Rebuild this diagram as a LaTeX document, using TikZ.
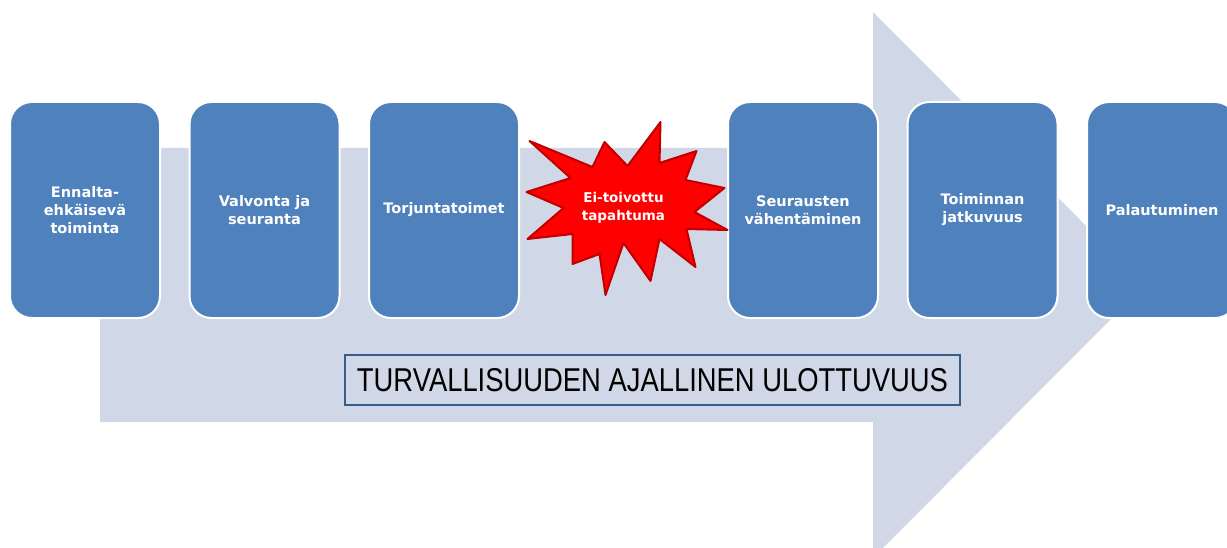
\documentclass[tikz,border=0pt]{standalone}
\usepackage{fontspec}
\setmainfont{DejaVu Sans}
\newfontfamily\captionfont{Liberation Sans}
\usepackage{tikz}
\usetikzlibrary{positioning}
\definecolor{boxblue}{HTML}{4F81BD}
\definecolor{arrowgrey}{HTML}{D0D8E8}
\definecolor{frameblue}{HTML}{385D8A}
\definecolor{starred}{HTML}{FF0000}
\definecolor{stardark}{HTML}{C00000}

\begin{document}
\begin{tikzpicture}[x=1pt,y=-1pt,node distance=179.5pt,
  phase/.style={draw=white,line width=2pt,fill=boxblue,rounded corners=22pt,
    minimum width=150pt,minimum height=216pt,align=center,text=white,
    font=\bfseries\fontsize{14.5}{18}\selectfont,inner sep=2pt},
  burst/.style={draw=stardark,line width=2pt,fill=starred,line join=round}]
\useasboundingbox (0,0) rectangle (1227,548);
\clip (0,0) rectangle (1227,548);

% time arrow in the back
\fill[arrowgrey] (100,148) -- (873,148) -- (873,12) -- (1145,285)
  -- (873,558) -- (873,422) -- (100,422) -- cycle;

\node (ennalta) [phase] at (85,210) {Ennalta-\\ehkäisevä\\toiminta};
\node (valvonta) [phase, right of=ennalta] {Valvonta ja\\seuranta};
\node (torjunta) [phase, right of=valvonta] {Torjuntatoimet};
\node (eventc) [right of=torjunta, inner sep=0pt] {};
\node (seuraus) [phase, right of=eventc] {Seurausten\\vähentäminen};
\node (jatkuvuus) [phase, right of=seuraus] {Toiminnan\\jatkuvuus};
\node (palautuminen) [phase, right of=jatkuvuus] {Palautuminen};

% the event itself
\draw[burst,shift={(eventc)}] (-94,-69) -- (-31,-43) -- (-19,-68) -- (4,-44)
  -- (37,-88) -- (36,-47) -- (73,-59) -- (62,-30) -- (101,-22) -- (71,2)
  -- (104,20) -- (63,19) -- (72,57) -- (36,29) -- (27,71) -- (0,33)
  -- (-18,85) -- (-24,44) -- (-51,54) -- (-51,24) -- (-96,29) -- (-60,-2)
  -- (-97,-18) -- (-53,-32) -- cycle;
\node (event) [align=center,text=white,yshift=2pt,
  font=\bfseries\fontsize{13.5}{18}\selectfont] at (eventc) {Ei-toivottu\\tapahtuma};

\node (dimension) [draw=frameblue,line width=1.2pt,fill=arrowgrey,
  minimum width=615pt,minimum height=50pt] at (652.5,380)
  {\captionfont\fontsize{33}{33}\selectfont\scalebox{0.83}[1]{TURVALLISUUDEN AJALLINEN ULOTTUVUUS}};
\end{tikzpicture}
\end{document}
